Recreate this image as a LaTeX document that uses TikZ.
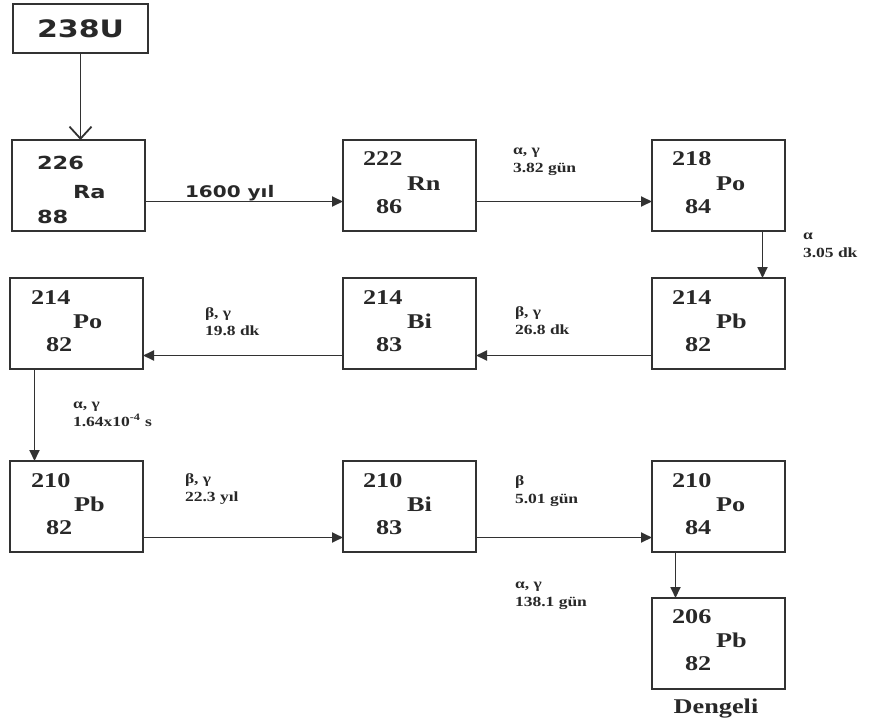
\documentclass[tikz,border=0pt]{standalone}
\usepackage{fontspec}
\setmainfont{Liberation Serif}
\newfontfamily\vsans{DejaVu Sans}
\usetikzlibrary{arrows.meta}
\definecolor{pdfcolor1}{RGB}{40,40,40}
\definecolor{pdfcolor2}{RGB}{50,50,50}
\newcommand{\stretchx}[1]{\scalebox{1.25}[1]{#1}}

\begin{document}
\begin{tikzpicture}[x=1bp,y=-1bp,inner sep=0pt,outer sep=0pt,
  box/.style={draw=pdfcolor2,line width=2.2bp,anchor=north west,minimum width=133bp,minimum height=91bp},
  arr/.style={draw=pdfcolor2,line width=1.8bp,-{Triangle[length=11bp,width=10bp]}},
  barb/.style={draw=pdfcolor2,line width=1.8bp,-{Straight Barb[length=12bp,width=22bp]}},
  sans/.style={anchor=base west,text=pdfcolor1,font=\vsans\bfseries\fontsize{18bp}{21bp}\selectfont},
  num/.style={anchor=base west,text=pdfcolor1,font=\bfseries\fontsize{21bp}{25bp}\selectfont},
  lab/.style={anchor=base west,text=pdfcolor1,font=\bfseries\fontsize{14bp}{17bp}\selectfont}]
  \useasboundingbox (0,0) rectangle (878,723);
  % boxes
  \node[box,minimum width=135bp,minimum height=49bp] (u238) at (13,4) {};
  \node[box] (ra226) at (12,140) {};
  \node[box] (rn222) at (343,140) {};
  \node[box] (po218) at (652,140) {};
  \node[box] (pb214) at (652,278) {};
  \node[box] (bi214) at (343,278) {};
  \node[box] (po214) at (10,278) {};
  \node[box] (pb210) at (10,461) {};
  \node[box] (bi210) at (343,461) {};
  \node[box] (po210) at (652,461) {};
  \node[box] (pb206) at (652,598) {};
  % decay arrows
  \draw[barb] (u238.south) -- (u238.south |- ra226.north);
  \draw[arr] ([yshift=-16bp]ra226.east) -- ([yshift=-16bp]rn222.west);
  \draw[arr] ([yshift=-16bp]rn222.east) -- ([yshift=-16bp]po218.west);
  \draw[arr] ([xshift=44bp]po218.south) -- ([xshift=44bp]pb214.north);
  \draw[arr] ([yshift=-32bp]pb214.west) -- ([yshift=-32bp]bi214.east);
  \draw[arr] ([yshift=-32bp]bi214.west) -- ([yshift=-32bp]po214.east);
  \draw[arr] ([xshift=-42bp]po214.south) -- ([xshift=-42bp]pb210.north);
  \draw[arr] ([yshift=-31bp]pb210.east) -- ([yshift=-31bp]bi210.west);
  \draw[arr] ([yshift=-31bp]bi210.east) -- ([yshift=-31bp]po210.west);
  \draw[arr] ([xshift=-43bp]po210.south) -- ([xshift=-43bp]pb206.north);
  % box texts
  \node[sans,font=\vsans\bfseries\fontsize{24bp}{28bp}\selectfont] (u238-t) at (37,38) {\stretchx{238U}};
  \node[sans] (ra226-a) at (37,170) {\stretchx{226}};
  \node[sans] (ra226-s) at (73,198) {\stretchx{Ra}};
  \node[sans] (ra226-z) at (37,223) {\stretchx{88}};
  \node[num] (rn222-a) at (363,166) {\stretchx{222}};
  \node[num] (rn222-s) at (407,190) {\stretchx{Rn}};
  \node[num] (rn222-z) at (376,213) {\stretchx{86}};
  \node[num] (po218-a) at (672,166) {\stretchx{218}};
  \node[num] (po218-s) at (716,190) {\stretchx{Po}};
  \node[num] (po218-z) at (685,213) {\stretchx{84}};
  \node[num] (pb214-a) at (672,304) {\stretchx{214}};
  \node[num] (pb214-s) at (716,328) {\stretchx{Pb}};
  \node[num] (pb214-z) at (685,351) {\stretchx{82}};
  \node[num] (bi214-a) at (363,304) {\stretchx{214}};
  \node[num] (bi214-s) at (407,328) {\stretchx{Bi}};
  \node[num] (bi214-z) at (376,351) {\stretchx{83}};
  \node[num] (po214-a) at (31,304) {\stretchx{214}};
  \node[num] (po214-s) at (73,328) {\stretchx{Po}};
  \node[num] (po214-z) at (46,351) {\stretchx{82}};
  \node[num] (pb210-a) at (31,487) {\stretchx{210}};
  \node[num] (pb210-s) at (74,511) {\stretchx{Pb}};
  \node[num] (pb210-z) at (46,534) {\stretchx{82}};
  \node[num] (bi210-a) at (363,487) {\stretchx{210}};
  \node[num] (bi210-s) at (407,511) {\stretchx{Bi}};
  \node[num] (bi210-z) at (376,534) {\stretchx{83}};
  \node[num] (po210-a) at (672,487) {\stretchx{210}};
  \node[num] (po210-s) at (716,511) {\stretchx{Po}};
  \node[num] (po210-z) at (685,534) {\stretchx{84}};
  \node[num] (pb206-a) at (672,623) {\stretchx{206}};
  \node[num] (pb206-s) at (716,647) {\stretchx{Pb}};
  \node[num] (pb206-z) at (685,670) {\stretchx{82}};
  \node[num,anchor=base] (dengeli) at (716,713) {\stretchx{Dengeli}};
  % half-lives
  \node[sans,font=\vsans\bfseries\fontsize{16bp}{19bp}\selectfont] (lab-ra) at (185,197) {\stretchx{1600 yıl}};
  \node[lab] (lab-rn-a) at (513,155) {\stretchx{α, γ}};
  \node[lab] (lab-rn-b) at (513,173) {\stretchx{3.82 gün}};
  \node[lab] (lab-po218-a) at (803,239) {\stretchx{α}};
  \node[lab] (lab-po218-b) at (803,257) {\stretchx{3.05 dk}};
  \node[lab] (lab-pb214-a) at (515,316) {\stretchx{β, γ}};
  \node[lab] (lab-pb214-b) at (515,334) {\stretchx{26.8 dk}};
  \node[lab] (lab-bi214-a) at (205,317) {\stretchx{β, γ}};
  \node[lab] (lab-bi214-b) at (205,335) {\stretchx{19.8 dk}};
  \node[lab] (lab-po214-a) at (73,408) {\stretchx{α, γ}};
  \node[lab] (lab-po214-b) at (73,426) {\stretchx{1.64x10\textsuperscript{-4} s}};
  \node[lab] (lab-pb210-a) at (185,483) {\stretchx{β, γ}};
  \node[lab] (lab-pb210-b) at (185,501) {\stretchx{22.3 yıl}};
  \node[lab] (lab-bi210-a) at (515,485) {\stretchx{β}};
  \node[lab] (lab-bi210-b) at (515,503) {\stretchx{5.01 gün}};
  \node[lab] (lab-po210-a) at (515,588) {\stretchx{α, γ}};
  \node[lab] (lab-po210-b) at (515,606) {\stretchx{138.1 gün}};
\end{tikzpicture}
\end{document}
